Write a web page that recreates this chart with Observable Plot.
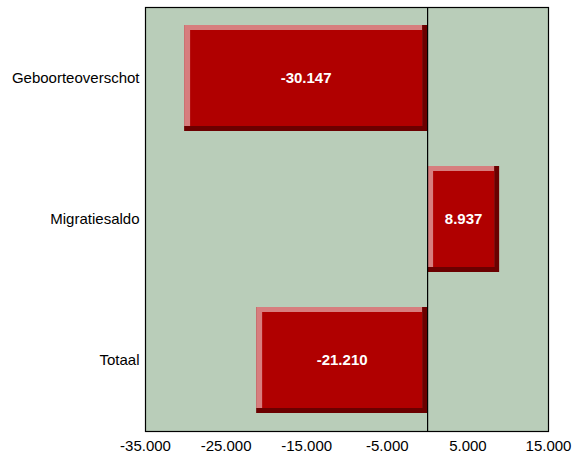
<!DOCTYPE html>
<html>
<head>
<meta charset="utf-8">
<script src="https://cdn.jsdelivr.net/npm/d3@7"></script>
<script src="https://cdn.jsdelivr.net/npm/@observablehq/plot@0.6"></script>
<style>
  html, body { margin: 0; padding: 0; background: #ffffff; }
  #chart svg { display: block; }
</style>
</head>
<body>
<div id="chart"></div>
<script>
const categories = ["Geboorteoverschot", "Migratiesaldo", "Totaal"];
const values = [-30147, 8937, -21210];
const xTicks = [-35000, -25000, -15000, -5000, 5000, 15000];

const data = categories.map((c, i) => ({category: c, value: values[i]}));

const nl = d3.formatLocale({decimal: ",", thousands: ".", grouping: [3], currency: ["€", ""], minus: "-"});
const fmt = nl.format(",d");

const font = "'Liberation Sans', Arial, sans-serif";

const chart = Plot.plot({
  width: 580,
  height: 457,
  marginLeft: 145,
  marginRight: 32,
  marginTop: 7,
  marginBottom: 26,
  style: {fontFamily: font, fontSize: "15px", color: "#000", background: "#fff"},
  x: {domain: [-35000, 15000], ticks: xTicks, tickFormat: fmt, tickSize: 0, tickPadding: 9, label: null},
  y: {domain: categories, paddingInner: 0.25, paddingOuter: 0.125, tickSize: 0, tickPadding: 6, label: null},
  marks: [
    Plot.frame({fill: "#b9cdb9"}),
    Plot.barX(data, {x: "value", y: "category", fill: "#6b0000"}),
    Plot.barX(data, {x: "value", y: "category", fill: "#d77e7e", insetRight: 5, insetBottom: 5}),
    Plot.barX(data, {x: "value", y: "category", fill: "#b00000", insetLeft: 6, insetTop: 5, insetRight: 5, insetBottom: 5}),
    Plot.ruleX([0], {stroke: "#000", strokeWidth: 1.2}),
    Plot.text(data, {x: d => d.value / 2, y: "category", text: d => fmt(d.value), fill: "#fff", fontWeight: "bold", fontSize: 15}),
    Plot.frame({stroke: "#000", strokeWidth: 1.2})
  ]
});

document.getElementById("chart").appendChild(chart);
</script>
</body>
</html>
